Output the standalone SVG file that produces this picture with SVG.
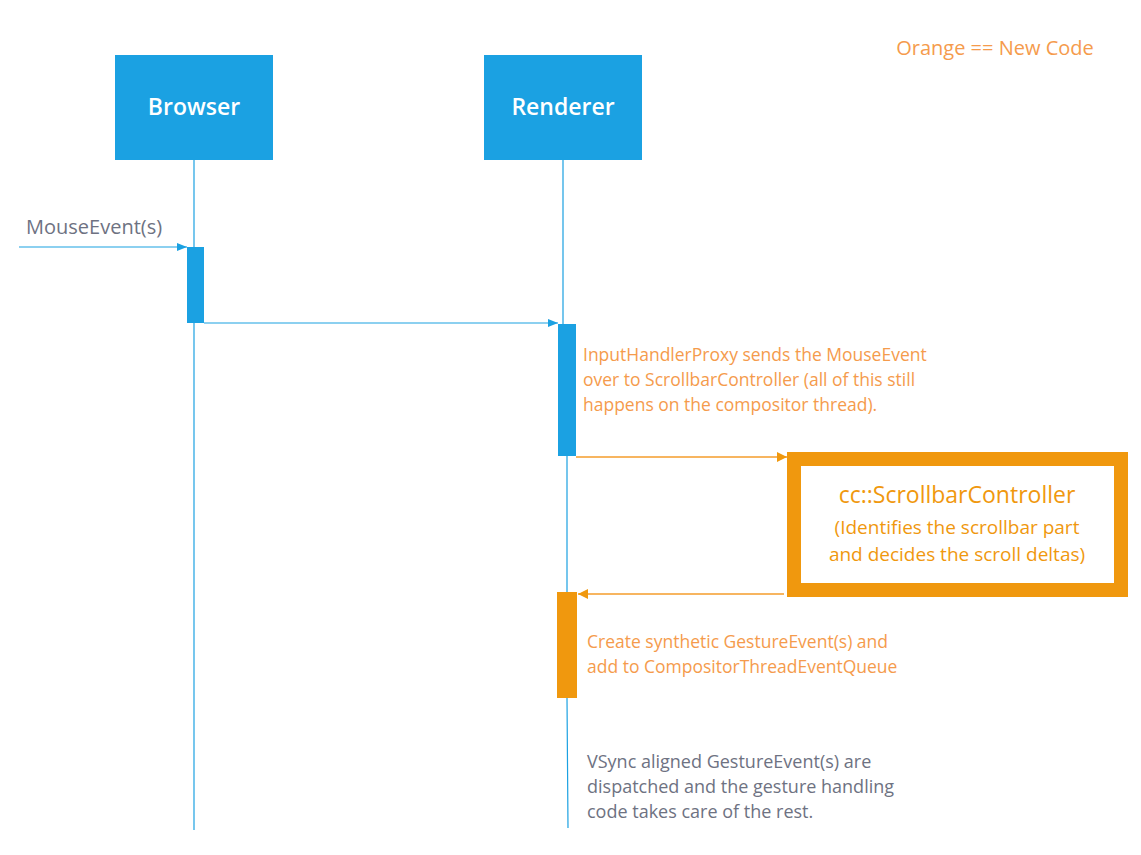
<svg xmlns="http://www.w3.org/2000/svg" width="1141" height="855" viewBox="0 0 1141 855">
<style>
text{font-family:"Open Sans","Noto Sans",sans-serif}
.hd{fill:#1ba1e2}
.hdt{fill:#fff;font-size:23px;font-weight:600;text-anchor:middle}
.life{stroke:#1ba1e2;stroke-width:1.2;fill:none}
.blue{stroke:#1ba1e2;stroke-width:1.2;fill:none}
.org{stroke:#f7b560;stroke-width:1.8;fill:none}
.note{fill:#f59b4c;font-size:17.5px}
.grey{fill:#6e7282;font-size:18px}
</style>
<defs>
<marker id="ab" markerWidth="10" markerHeight="8" refX="10" refY="4" orient="auto" markerUnits="userSpaceOnUse"><path d="M0,0L10,4L0,8z" fill="#1ba1e2"/></marker>
<marker id="ao" markerWidth="10" markerHeight="10" refX="10" refY="5" orient="auto" markerUnits="userSpaceOnUse"><path d="M0,0L10,5L0,10z" fill="#f0980e"/></marker>
</defs>
<rect width="1141" height="855" fill="#fff"/>
<text x="995" y="55" text-anchor="middle" style="fill:#f59b4c;font-size:20px">Orange == New Code</text>
<g id="browser"><rect class="hd" x="115" y="55" width="158" height="105"/><text class="hdt" x="194" y="115">Browser</text></g>
<g id="renderer"><rect class="hd" x="484" y="55" width="158" height="105"/><text class="hdt" x="563" y="115">Renderer</text></g>
<g id="lifelines">
<line class="life" x1="194" y1="160" x2="194" y2="830"/>
<path class="life" d="M563,160 L563,324 M567,456 L567,592 M567,698 L568,828"/>
</g>
<g id="activations">
<rect x="187" y="247" width="17" height="76" fill="#1ba1e2"/>
<rect x="558" y="324" width="18" height="132" fill="#1ba1e2"/>
<rect x="557" y="592" width="20" height="106" fill="#f0980e"/>
</g>
<g id="scrollbarcontroller">
<rect x="794" y="459" width="327" height="131" fill="#fff" stroke="#f0980e" stroke-width="14"/>
<text x="957" y="503" text-anchor="middle" style="fill:#f0980e;font-size:23px">cc::ScrollbarController</text>
<text x="957" y="534" text-anchor="middle" style="fill:#f0980e;font-size:19px">(Identifies the scrollbar part</text>
<text x="957" y="561" text-anchor="middle" style="fill:#f0980e;font-size:19px">and decides the scroll deltas)</text>
</g>
<g id="connectors">
<line class="blue" x1="19" y1="247" x2="187" y2="247" marker-end="url(#ab)"/>
<line class="blue" x1="204" y1="323" x2="558" y2="323" marker-end="url(#ab)"/>
<line class="org" x1="576" y1="457" x2="787" y2="457" marker-end="url(#ao)"/>
<line class="org" x1="784" y1="594" x2="578" y2="594" marker-end="url(#ao)"/>
</g>
<g id="labels">
<text class="grey" x="26" y="234" style="font-size:20px">MouseEvent(s)</text>
<text class="note" x="583" y="361">InputHandlerProxy sends the MouseEvent</text>
<text class="note" x="583" y="386">over to ScrollbarController (all of this still</text>
<text class="note" x="583" y="411">happens on the compositor thread).</text>
<text class="note" x="587" y="648">Create synthetic GestureEvent(s) and</text>
<text class="note" x="587" y="673">add to CompositorThreadEventQueue</text>
<text class="grey" x="587" y="768">VSync aligned GestureEvent(s) are</text>
<text class="grey" x="587" y="793">dispatched and the gesture handling</text>
<text class="grey" x="587" y="818">code takes care of the rest.</text>
</g>
</svg>
